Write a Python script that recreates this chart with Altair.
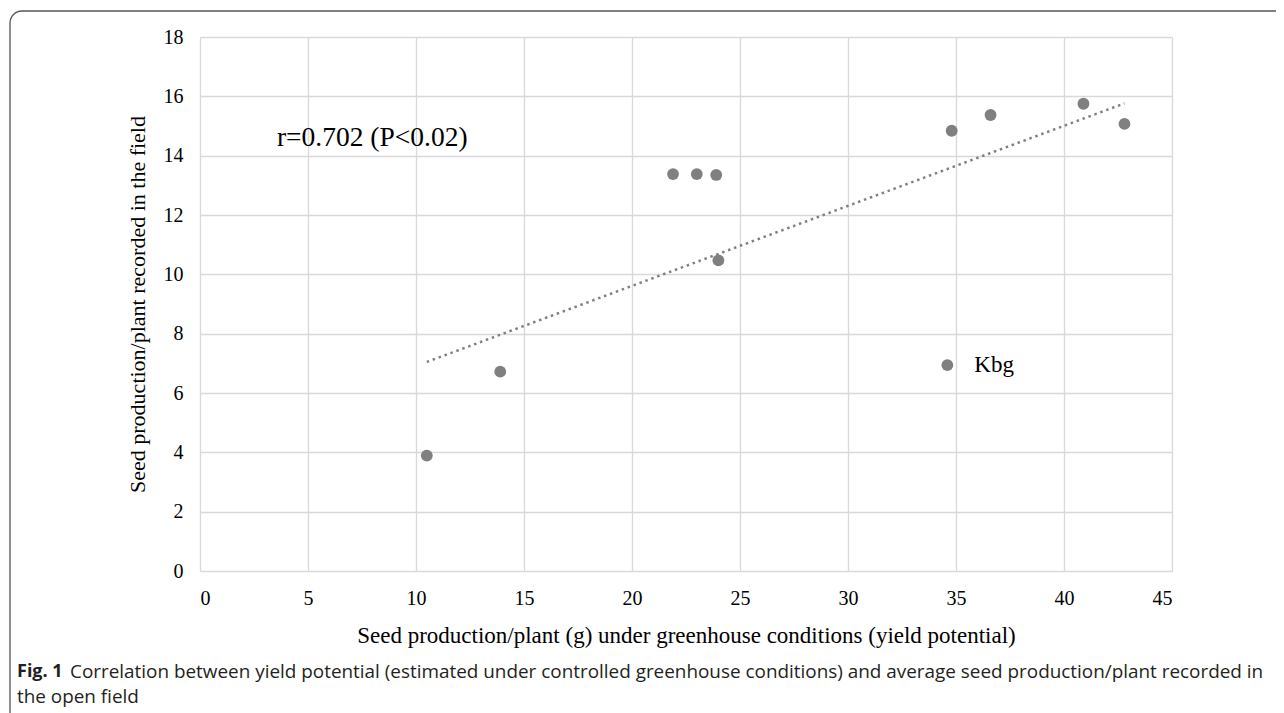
import altair as alt
import pandas as pd

# data
xs = [10.5, 13.9, 21.9, 23.0, 23.9, 24.0, 34.6, 34.8, 36.6, 40.9, 42.8]
ys = [3.89, 6.72, 13.38, 13.38, 13.35, 10.47, 6.94, 14.84, 15.37, 15.75, 15.07]
labels = ["", "", "", "", "", "", "Kbg", "", "", "", ""]
x_ticks = [0, 5, 10, 15, 20, 25, 30, 35, 40, 45]
y_ticks = [0, 2, 4, 6, 8, 10, 12, 14, 16, 18]
annotation = "r=0.702 (P<0.02)"
x_title = "Seed production/plant (g) under greenhouse conditions (yield potential)"
y_title = "Seed production/plant recorded in the field"
caption_bold = "Fig. 1"
caption_line1 = "Correlation between yield potential (estimated under controlled greenhouse conditions) and average seed production/plant recorded in"
caption_line2 = "the open field"

df = pd.DataFrame({"x": xs, "y": ys, "label": labels})
W, H = 972, 534
SERIF = "Liberation Serif"
SANS = "Open Sans"
GREY = "#808080"

xscale = alt.Scale(domain=[0, 45], nice=False, zero=False)
yscale = alt.Scale(domain=[0, 18], nice=False, zero=False)

xenc = alt.X("x:Q", scale=xscale, axis=alt.Axis(
    values=x_ticks, title=x_title, grid=True, domain=False, ticks=False,
    labelPadding=17, titlePadding=16, titleFontSize=23))
yenc = alt.Y("y:Q", scale=yscale, axis=alt.Axis(
    values=y_ticks, title=y_title, grid=True, domain=False, ticks=False,
    labelPadding=17, titlePadding=14, titleFontSize=22))

points = alt.Chart(df).mark_circle(size=140, color=GREY, opacity=1).encode(x=xenc, y=yenc)

trend = alt.Chart(df).transform_regression("x", "y").mark_line(
    color=GREY, strokeWidth=2.5, strokeDash=[2.5, 3.8]
).encode(x=alt.X("x:Q", scale=xscale), y=alt.Y("y:Q", scale=yscale))

kbg = alt.Chart(df).transform_filter("datum.label != ''").mark_text(
    align="left", baseline="middle", dx=27, font=SERIF, fontSize=23, color="black"
).encode(x=alt.X("x:Q", scale=xscale), y=alt.Y("y:Q", scale=yscale), text="label:N")

ann_df = pd.DataFrame({"x": [3.56], "y": [14.59], "t": [annotation]})
ann = alt.Chart(ann_df).mark_text(
    align="left", baseline="middle", font=SERIF, fontSize=27.5, color="black"
).encode(x=alt.X("x:Q", scale=xscale), y=alt.Y("y:Q", scale=yscale), text="t:N")

one = pd.DataFrame({"a": [0]})
frame = alt.Chart(one).mark_rect(
    fill=None, fillOpacity=0, stroke="#555555", strokeWidth=1.3, cornerRadius=12
).encode(x=alt.value(-190), x2=alt.value(1150), y=alt.value(-26), y2=alt.value(720))

cap_bold = alt.Chart(one).mark_text(
    align="left", baseline="middle", font=SANS, fontSize=18, fontWeight="bold", color="#231f20"
).encode(x=alt.value(-183), y=alt.value(635), text=alt.value(caption_bold))
cap1 = alt.Chart(one).mark_text(
    align="left", baseline="middle", font=SANS, fontSize=18.9, color="#231f20"
).encode(x=alt.value(-130), y=alt.value(635), text=alt.value(caption_line1))
cap2 = alt.Chart(one).mark_text(
    align="left", baseline="middle", font=SANS, fontSize=18.9, color="#231f20"
).encode(x=alt.value(-183), y=alt.value(660), text=alt.value(caption_line2))

chart = alt.layer(frame, trend, points, kbg, ann, cap_bold, cap1, cap2).properties(
    width=W, height=H,
    background="white",
    autosize=alt.AutoSizeParams(type="none"),
    padding={"left": 192, "top": 29, "right": 104, "bottom": 150},
).configure_view(stroke=None).configure_axis(
    gridColor="#d9d9d9", gridWidth=1.3,
    labelFont=SERIF, labelFontSize=20, labelColor="black",
    titleFont=SERIF, titleFontWeight="normal", titleColor="black",
)

chart.save("out.html", embed_options={"renderer": "svg", "actions": False})
